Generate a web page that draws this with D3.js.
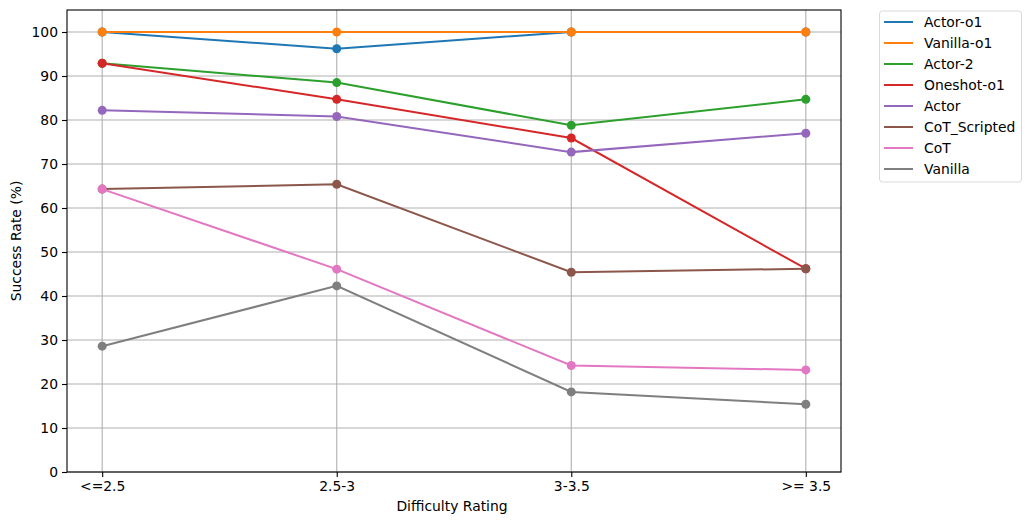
<!DOCTYPE html>
<html>
<head>
<meta charset="utf-8">
<script src="https://d3js.org/d3.v7.min.js"></script>
<style>
  body { margin: 0; background: #fff; }
  text { font-family: "DejaVu Sans", sans-serif; fill: #000; }
</style>
</head>
<body>
<svg width="1030" height="525"></svg>
<script>
// data
var categories = ["<=2.5", "2.5-3", "3-3.5", ">= 3.5"];
var seriesNames = ["Actor-o1", "Vanilla-o1", "Actor-2", "Oneshot-o1", "Actor", "CoT_Scripted", "CoT", "Vanilla"];
var actorO1     = [100, 96.2, 100, 100];
var vanillaO1   = [100, 100, 100, 100];
var actor2      = [92.9, 88.5, 78.8, 84.7];
var oneshotO1   = [92.9, 84.7, 75.9, 46.2];
var actor       = [82.2, 80.8, 72.7, 77.0];
var cotScripted = [64.3, 65.4, 45.4, 46.2];
var cot         = [64.3, 46.1, 24.2, 23.2];
var vanilla     = [28.6, 42.3, 18.2, 15.4];
var yTicks = [0, 10, 20, 30, 40, 50, 60, 70, 80, 90, 100];

var allSeries = [actorO1, vanillaO1, actor2, oneshotO1, actor, cotScripted, cot, vanilla];
var colors = ["#1f77b4", "#ff7f0e", "#2ca02c", "#d62728", "#9467bd", "#8c564b", "#e377c2", "#7f7f7f"];

// plot box (window.top is reserved, so use other names)
var plotL = 67, plotT = 10, plotR = 841, plotB = 472;
var fs = "13.9px";

var svg = d3.select("svg");

// x: matplotlib style 5% margins on the index axis
var x = d3.scaleLinear().domain([-0.15, 3.15]).range([plotL, plotR]);
var y = d3.scaleLinear().domain([0, 105]).range([plotB, plotT]);

// grid
var grid = svg.append("g");
grid.selectAll("line.gy")
  .data(yTicks)
  .enter().append("line")
  .attr("x1", plotL).attr("x2", plotR)
  .attr("y1", function(d) { return y(d); })
  .attr("y2", function(d) { return y(d); })
  .attr("stroke", "#b0b0b0").attr("stroke-width", 1.1);
grid.selectAll("line.gx")
  .data(categories)
  .enter().append("line")
  .attr("y1", plotT).attr("y2", plotB)
  .attr("x1", function(d, i) { return x(i); })
  .attr("x2", function(d, i) { return x(i); })
  .attr("stroke", "#b0b0b0").attr("stroke-width", 1.1);

// series
var line = d3.line()
  .x(function(d, i) { return x(i); })
  .y(function(d) { return y(d); });

allSeries.forEach(function(vals, k) {
  var g = svg.append("g");
  g.append("path")
    .attr("d", line(vals))
    .attr("fill", "none")
    .attr("stroke", colors[k])
    .attr("stroke-width", 2);
  g.selectAll("circle")
    .data(vals)
    .enter().append("circle")
    .attr("cx", function(d, i) { return x(i); })
    .attr("cy", function(d) { return y(d); })
    .attr("r", 4.5)
    .attr("fill", colors[k]);
});

// axes
var xAxis = d3.axisBottom(x)
  .tickValues(d3.range(categories.length))
  .tickFormat(function(i) { return categories[i]; })
  .tickSize(5).tickPadding(4);
var yAxis = d3.axisLeft(y)
  .tickValues(yTicks)
  .tickSize(5).tickPadding(4);

var gx = svg.append("g").attr("transform", "translate(0," + plotB + ")").call(xAxis);
var gy = svg.append("g").attr("transform", "translate(" + plotL + ",0)").call(yAxis);
[gx, gy].forEach(function(g) {
  g.select(".domain").remove();
  g.selectAll(".tick line").attr("stroke", "#000").attr("stroke-width", 1.1);
  g.selectAll(".tick text").style("font-size", fs).style("font-family", "DejaVu Sans");
});

// frame
svg.append("rect")
  .attr("x", plotL).attr("y", plotT)
  .attr("width", plotR - plotL).attr("height", plotB - plotT)
  .attr("fill", "none").attr("stroke", "#000").attr("stroke-width", 1.1);

// axis labels
svg.append("text")
  .attr("x", 452).attr("y", 511)
  .attr("text-anchor", "middle")
  .style("font-size", fs)
  .text("Difficulty Rating");
svg.append("text")
  .attr("transform", "translate(21," + ((plotT + plotB) / 2) + ") rotate(-90)")
  .attr("text-anchor", "middle")
  .style("font-size", fs)
  .text("Success Rate (%)");

// legend
var legend = svg.append("g");
legend.append("rect")
  .attr("x", 879.5).attr("y", 11)
  .attr("width", 142).attr("height", 171)
  .attr("rx", 3)
  .attr("fill", "#fff").attr("stroke", "#d9d9d9").attr("stroke-width", 1);
var items = legend.selectAll("g.item")
  .data(seriesNames)
  .enter().append("g")
  .attr("transform", function(d, i) { return "translate(884," + (22 + i * 21) + ")"; });
items.append("line")
  .attr("x1", 0).attr("x2", 29)
  .attr("stroke", function(d, i) { return colors[i]; })
  .attr("stroke-width", 2);
items.append("text")
  .attr("x", 40).attr("dy", "0.35em")
  .style("font-size", fs)
  .text(function(d) { return d; });
</script>
</body>
</html>
